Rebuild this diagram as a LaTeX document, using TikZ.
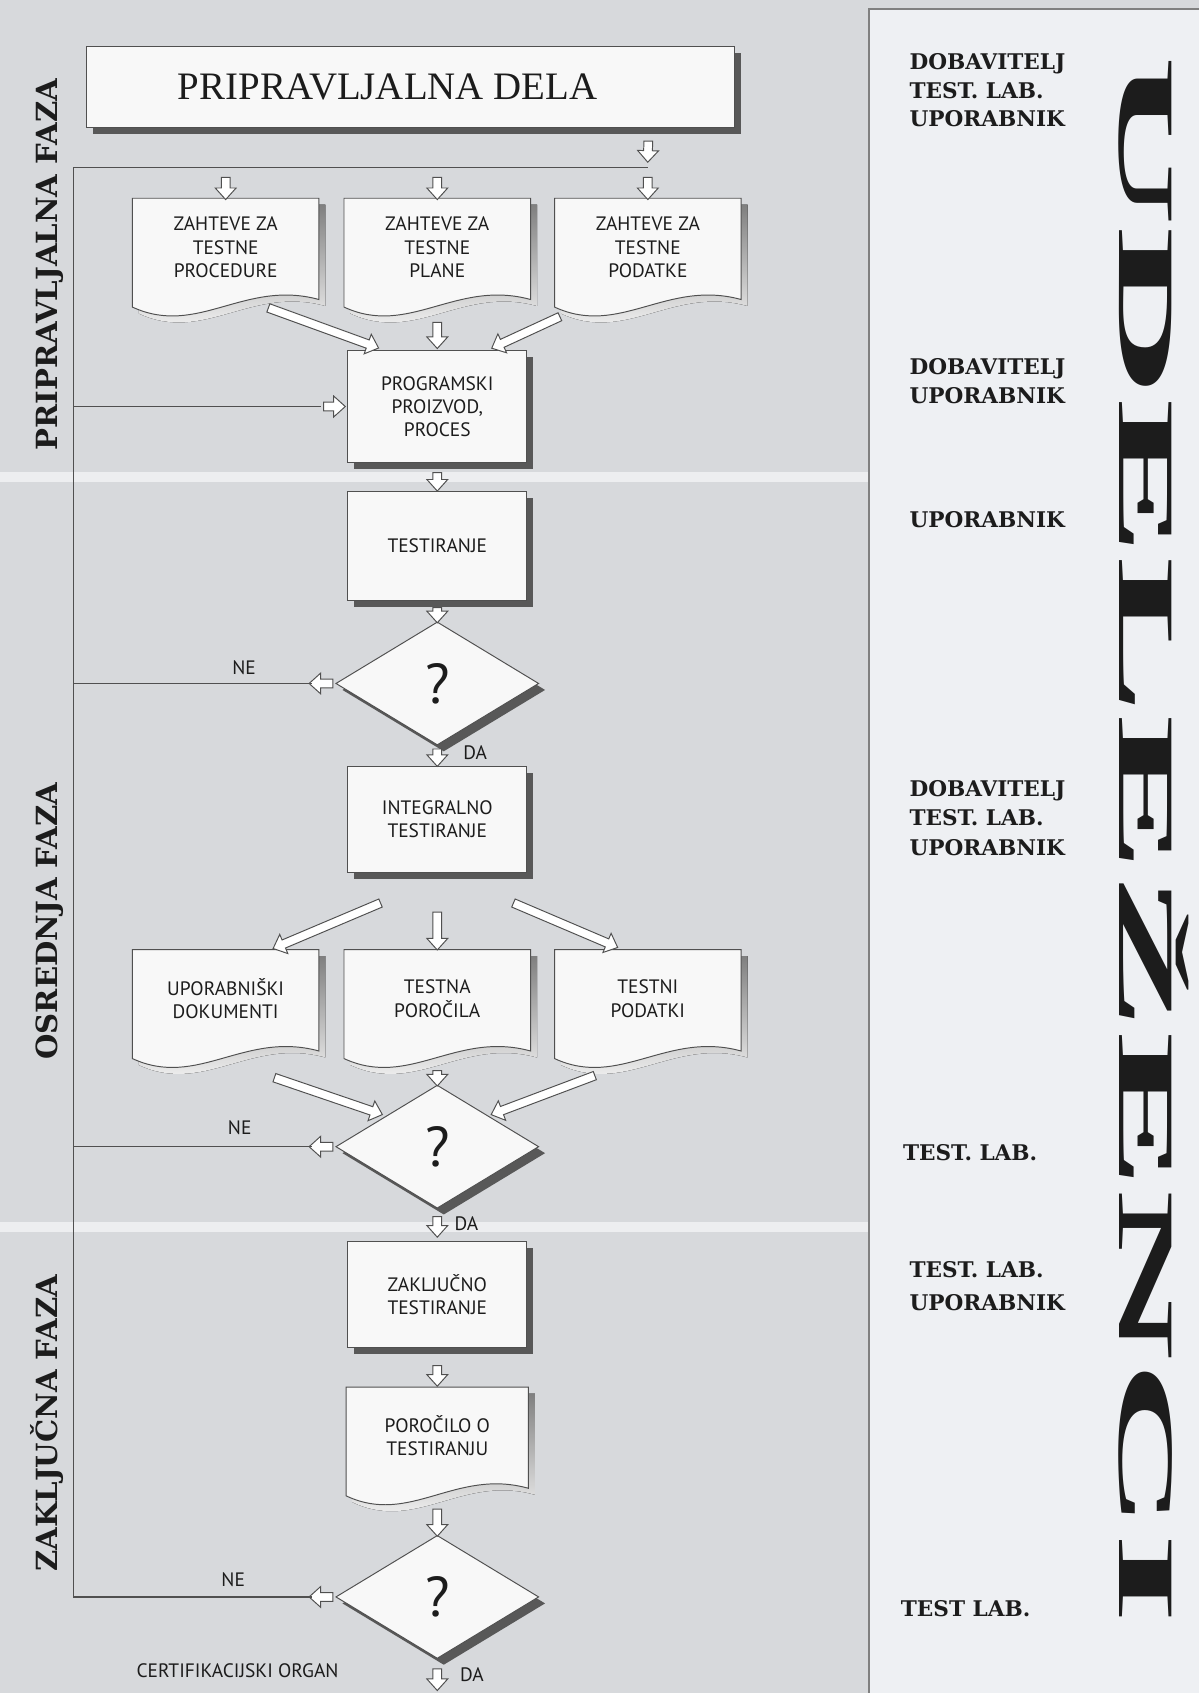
\documentclass[tikz,border=0pt]{standalone}
\usepackage{fontspec}
\usetikzlibrary{calc,shapes.geometric,shapes.arrows,shadows}
\newfontfamily\boxfont{PT Sans}
\newfontfamily\titlefont{Liberation Serif}
\newfontfamily\rfont{DejaVu Serif}
\newfontfamily\bigfont{Liberation Serif}
\definecolor{pagegray}{RGB}{215,217,220}
\definecolor{panel}{RGB}{238,240,243}
\definecolor{band}{RGB}{237,238,240}
\definecolor{boxfill}{RGB}{248,248,248}
\definecolor{edge}{RGB}{80,80,80}
\definecolor{shade}{RGB}{88,88,88}
\definecolor{ink}{RGB}{28,28,28}
\pgfdeclarelayer{bg}
\pgfdeclarelayer{shp}
\pgfsetlayers{bg,shp,main}
\tikzset{
  procbox/.style={rectangle, draw=edge, line width=0.45pt, fill=boxfill, minimum width=83pt,
    inner sep=0pt, align=center, font=\boxfont\fontsize{9}{10.75}\selectfont, text=ink,
    drop shadow={shadow xshift=3pt, shadow yshift=-3pt, fill=shade, opacity=1}},
  docnode/.style={rectangle, minimum width=86pt, minimum height=45pt, inner sep=0pt,
    align=center, font=\boxfont\fontsize{9}{10.75}\selectfont, text=ink},
  decision/.style={diamond, draw=edge, line width=0.45pt, fill=boxfill, minimum width=94pt,
    minimum height=57pt, inner sep=0pt, font=\boxfont\fontsize{26}{28}\selectfont, text=ink,
    drop shadow={shadow xshift=3pt, shadow yshift=-3pt, fill=shade, opacity=1}},
  blk/.style={single arrow, draw=edge, fill=white, line width=0.45pt, inner xsep=0pt,
    inner ysep=1.8pt, single arrow head extend=2.8pt, single arrow tip angle=84,
    single arrow head indent=0pt, minimum width=1pt},
  loopline/.style={draw=edge, line width=0.6pt},
  lbl/.style={font=\boxfont\fontsize{9}{10}\selectfont, text=ink, inner sep=0pt},
  role/.style={font=\rfont\bfseries\fontsize{10}{12}\selectfont, text=ink, anchor=base west, inner sep=0pt},
  phase/.style={font=\rfont\bfseries\fontsize{13.5}{15}\selectfont, text=ink, rotate=90, anchor=base, inner sep=0pt},
}
\newcommand\barrow[3]{\path let \p1=($#3-#2$), \n1={atan2(\y1,\x1)}, \n2={veclen(\x1,\y1)} in
  node[blk, rotate=\n1, minimum height=\n2] (#1) at ($#2!0.5!#3$) {};}
\newcommand\docpath[3]{($(#1.north west)+(#2,#3)$) -- ($(#1.north east)+(#2,#3)$) --
  ($(#1.south east)+(#2,#3+3)$) .. controls ($(#1.south west)!0.6!(#1.south east)+(#2,#3-16)$)
  and ($(#1.south west)!0.35!(#1.south east)+(#2,#3+38)$) .. ($(#1.south west)+(#2,#3+10)$) -- cycle}
\newcommand\docshape[1]{\begin{pgfonlayer}{shp}
  \fill[shade] \docpath{#1}{6}{6};
  \filldraw[draw=edge, line width=0.45pt, fill=boxfill] \docpath{#1}{0}{0};
  \end{pgfonlayer}}
\begin{document}
\begin{tikzpicture}[x=0.5pt, y=-0.5pt]
\useasboundingbox (0,0) rectangle (1110,1568);
\begin{pgfonlayer}{bg}
  \fill[band] (0,0) rectangle (1110,1568);
  \fill[pagegray] (0,0) rectangle (805,437);
  \fill[pagegray] (0,446) rectangle (805,1132);
  \fill[pagegray] (0,1141) rectangle (805,1568);
  \fill[pagegray] (805,0) rectangle (1110,8);
  \fill[panel] (805,8) rectangle (1110,1568);
  \draw[gray, line width=0.9pt] (1110,8) -- (805,8) -- (805,1568);
\end{pgfonlayer}

% title box
\node[procbox, minimum width=300pt, minimum height=37.5pt] (pd) at (380,80.5) {};
\node[font=\titlefont\fontsize{18}{20}\selectfont, text=ink, inner sep=0pt] (pdtext) at (359,81) {PRIPRAVLJALNA DELA};

\coordinate (ftop) at (600,155);
\coordinate (lt) at (68,155);

% row 1 documents
\node[docnode] (dA) at (209,229) {ZAHTEVE ZA\\TESTNE\\PROCEDURE};
\node[docnode] (dB) at (405,229) {ZAHTEVE ZA\\TESTNE\\PLANE};
\node[docnode] (dC) at (600,229) {ZAHTEVE ZA\\TESTNE\\PODATKE};
\docshape{dA}\docshape{dB}\docshape{dC}

\node[procbox, minimum height=51.5pt] (prog) at (405,376.5) {PROGRAMSKI\\PROIZVOD,\\PROCES};
\node[procbox, minimum height=50.5pt] (test) at (405,505.5) {TESTIRANJE};
\node[decision] (d1) at (405,633) {?};
\node[procbox, minimum height=49pt] (int) at (405,759) {INTEGRALNO\\TESTIRANJE};

\node[docnode] (eA) at (209,925) {UPORABNIŠKI\\DOKUMENTI};
\node[docnode] (eB) at (405,925) {TESTNA\\POROČILA};
\node[docnode] (eC) at (600,925) {TESTNI\\PODATKI};
\docshape{eA}\docshape{eB}\docshape{eC}

\node[decision] (d2) at (405,1062) {?};
\node[procbox, minimum height=49pt] (zakl) at (405,1199) {ZAKLJUČNO\\TESTIRANJE};
\node[docnode, minimum width=84pt] (por) at (405,1330) {POROČILO O\\TESTIRANJU};
\docshape{por}
\node[decision] (d3) at (405,1479) {?};

% block arrows
\barrow{a0}{($(pd.south east)+(-80,10)$)}{($(ftop)+(0,-7)$)}
\barrow{a1}{($(dA.north |- ftop)+(0,7)$)}{($(dA.north)+(0,-1)$)}
\barrow{a2}{($(dB.north |- ftop)+(0,7)$)}{($(dB.north)+(0,-1)$)}
\barrow{a3}{($(dC.north |- ftop)+(0,7)$)}{($(dC.north)+(0,-1)$)}
\barrow{a4}{($(dA.south east)+(-49,10)$)}{($(prog.north west)+(27,-3)$)}
\barrow{a5}{($(dB.south)+(0,22)$)}{($(prog.north)+(0,-4)$)}
\barrow{a6}{($(dC.south west)+(7,18)$)}{($(prog.north east)+(-31,-3)$)}
\coordinate (progtail) at ($(prog.west)+(-24,0)$);
\barrow{a7}{(progtail)}{($(prog.west)+(-4,0)$)}
\barrow{a8}{($(prog.south)+(0,7)$)}{($(test.north)+(0,-2)$)}
\barrow{a9}{($(test.south)+(0,4)$)}{($(d1.north)+(0,-1)$)}
\coordinate (ne1tip) at ($(d1.west)+(-22,0)$);
\barrow{a10}{(d1.west)}{(ne1tip)}
\barrow{a11}{($(d1.south)+(0,1)$)}{($(int.north)+(0,-2)$)}
\barrow{a12}{($(int.south west)+(33,27)$)}{($(eA.north)+(46,-2)$)}
\barrow{a13}{($(int.south)+(0,34)$)}{($(eB.north)+(0,-2)$)}
\barrow{a14}{($(int.south east)+(-15,27)$)}{($(eC.north)+(-30,-3)$)}
\barrow{a15}{($(eA.south)+(43,27)$)}{($(d2.north)+(-53,27)$)}
\barrow{a16}{($(eB.south)+(0,19)$)}{($(d2.north)+(0,-1)$)}
\barrow{a17}{($(eC.south)+(-47,25)$)}{($(d2.north)+(52,27)$)}
\coordinate (ne2tip) at ($(d2.west)+(-22,0)$);
\barrow{a18}{(d2.west)}{(ne2tip)}
\barrow{a19}{($(d2.south)+(0,5)$)}{($(zakl.north)+(0,-6)$)}
\barrow{a20}{($(zakl.south)+(0,14)$)}{($(por.north)+(0,-3)$)}
\barrow{a21}{($(por.south)+(0,20)$)}{($(d3.north)+(0,-1)$)}
\coordinate (ne3tip) at ($(d3.west)+(-22,0)$);
\barrow{a22}{(d3.west)}{(ne3tip)}
\coordinate (dend) at ($(d3.south)+(0,27)$);
\barrow{a23}{($(d3.south)+(0,7)$)}{(dend)}

% loop lines
\draw[loopline] (ftop) -- (lt) -- (lt |- ne3tip) -- (ne3tip);
\draw[loopline] (lt |- progtail) -- (progtail);
\draw[loopline] (lt |- ne1tip) -- (ne1tip);
\draw[loopline] (lt |- ne2tip) -- (ne2tip);

% labels
\node[lbl] (ne1) at (226,618) {NE};
\node[lbl] (da1) at (440,697) {DA};
\node[lbl] (ne2) at (222,1044) {NE};
\node[lbl] (da2) at (432,1133) {DA};
\node[lbl] (ne3) at (216,1463) {NE};
\node[lbl] (da3) at (437,1551) {DA};
\node[lbl] (cert) at (220,1547) {CERTIFIKACIJSKI ORGAN};

% phase labels
\node[phase] (ph1) at (53,245) {PRIPRAVLJALNA FAZA};
\node[phase] (ph2) at (53,853) {OSREDNJA FAZA};
\node[phase] (ph3) at (53,1318) {ZAKLJUČNA FAZA};

% roles
\node[role] (r1a) at (842,64) {DOBAVITELJ};
\node[role] (r1b) at (842,91) {TEST. LAB.};
\node[role] (r1c) at (842,117) {UPORABNIK};
\node[role] (r2a) at (842,347) {DOBAVITELJ};
\node[role] (r2b) at (842,374) {UPORABNIK};
\node[role] (r3a) at (842,489) {UPORABNIK};
\node[role] (r4a) at (842,738) {DOBAVITELJ};
\node[role] (r4b) at (842,765) {TEST. LAB.};
\node[role] (r4c) at (842,792) {UPORABNIK};
\node[role] (r5a) at (836,1075) {TEST. LAB.};
\node[role] (r6a) at (842,1183) {TEST. LAB.};
\node[role] (r6b) at (842,1214) {UPORABNIK};
\node[role] (r7a) at (834,1497) {TEST LAB.};

% big vertical title
\node[rotate=-90, anchor=base, inner sep=0pt, text=ink,
  font=\bigfont\bfseries\fontsize{37}{40}\selectfont] (big) at (1037,778)
  {\scalebox{2.97}[1]{UDELEŽENCI}};
\end{tikzpicture}
\end{document}
